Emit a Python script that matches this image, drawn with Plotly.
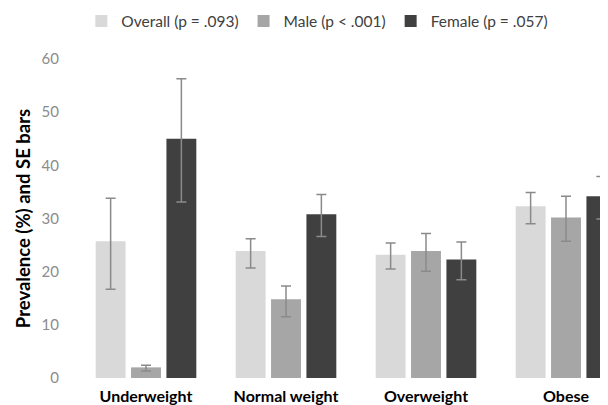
import plotly.graph_objects as go

categories = ["Underweight", "Normal weight", "Overweight", "Obese"]

overall = [25.7, 23.9, 23.2, 32.3]
overall_plus = [8.1, 2.3, 2.2, 2.6]
overall_minus = [9.0, 3.2, 2.7, 3.3]

male = [2.0, 14.8, 23.9, 30.2]
male_plus = [0.4, 2.5, 3.3, 4.0]
male_minus = [0.7, 3.3, 3.8, 4.5]

female = [45.0, 30.8, 22.3, 34.2]
female_plus = [11.3, 3.7, 3.3, 3.7]
female_minus = [11.9, 4.2, 3.8, 4.3]

series = [
    ("Overall (p = .093)", overall, overall_plus, overall_minus, "#d9d9d9"),
    ("Male (p < .001)", male, male_plus, male_minus, "#a6a6a6"),
    ("Female (p = .057)", female, female_plus, female_minus, "#404040"),
]

FONT = "Lato, Carlito, Calibri, sans-serif"

fig = go.Figure()
for name, vals, plus, minus, color in series:
    fig.add_trace(go.Bar(
        name=name, x=categories, y=vals, marker=dict(color=color, line=dict(width=0)),
        error_y=dict(type="data", symmetric=False, array=plus, arrayminus=minus,
                     color="#8a8a8a", thickness=1.5, width=5),
    ))

# The page body adds an 8px offset on the left/top, so the figure is 8px smaller.
fig.update_layout(
    width=600, height=397,
    margin=dict(l=68, r=0, t=51, b=27, autoexpand=False),
    paper_bgcolor="white", plot_bgcolor="white",
    barmode="group", bargap=0.242, bargroupgap=0.155,
    font=dict(family=FONT, size=15, color="#404040"),
    legend=dict(orientation="h", x=0.01, xanchor="left", y=1.118, yanchor="middle",
                font=dict(size=15.5, color="#404040"), itemwidth=30, traceorder="normal"),
    xaxis=dict(range=[-0.5, 3.3], showgrid=False, showline=False, ticks="",
               ticklabelstandoff=7, automargin=False,
               tickfont=dict(family=FONT, size=16, color="#000000", weight="bold")),
    yaxis=dict(range=[0, 60], dtick=10, showgrid=False, showline=False, zeroline=False,
               ticks="", ticklabelstandoff=16, automargin=False,
               tickfont=dict(family=FONT, size=15, color="#8c8c8c"),
               title=dict(text="Prevalence (%) and SE bars", standoff=6,
                          font=dict(family=FONT, size=18.5, color="#000000", weight="bold"))),
    showlegend=True,
)

fig.write_html("out.html")
